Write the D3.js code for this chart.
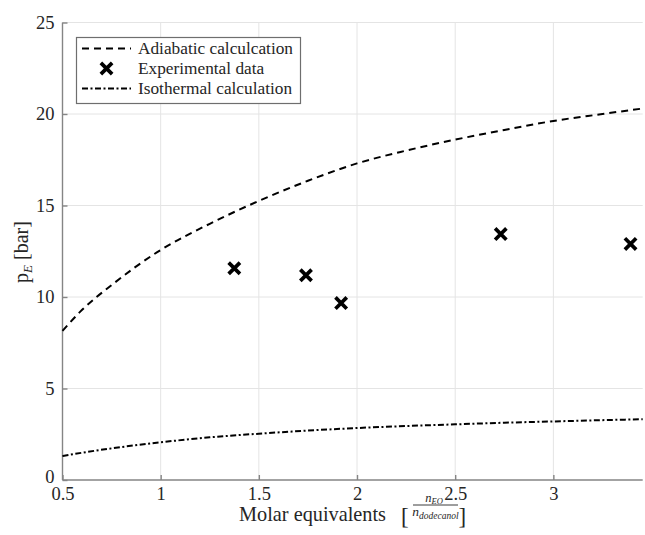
<!DOCTYPE html>
<html>
<head>
<meta charset="utf-8">
<script src="https://cdn.jsdelivr.net/npm/d3@7"></script>
<style>
  html, body { margin: 0; padding: 0; background: #fff; }
  svg { display: block; }
  text { font-family: "Liberation Serif", "Times New Roman", serif; fill: #262626; }
</style>
</head>
<body>
<svg id="chart" width="645" height="535"></svg>
<script>
// Molar equivalents (n_EO / n_dodecanol) sampled along the model curves
const modelX = [0.5, 0.6, 0.75, 1.0, 1.25, 1.5, 1.75, 2.0, 2.25, 2.5, 2.75, 3.0, 3.25, 3.455];
// Adiabatic model pressure p_E [bar]
const adiabaticP = [8.15, 9.3, 10.65, 12.57, 14.0, 15.25, 16.35, 17.3, 18.0, 18.6, 19.13, 19.62, 20.0, 20.3];
// Isothermal model pressure p_E [bar]
const isothermalP = [1.31, 1.49, 1.73, 2.06, 2.33, 2.53, 2.7, 2.84, 2.95, 3.04, 3.13, 3.2, 3.27, 3.32];
// Measured points
const expX = [1.375, 1.74, 1.919, 2.732, 3.393];
const expP = [11.57, 11.19, 9.67, 13.44, 12.90];
// Axis ticks
const xTicks = [0.5, 1, 1.5, 2, 2.5, 3];
const yTicks = [0, 5, 10, 15, 20, 25];
const legendLabels = ["Adiabatic calculcation", "Experimental data", "Isothermal calculation"];

const FONT = "Liberation Serif, Times New Roman, serif";
const svg = d3.select("#chart");
const plot = { left: 62.5, right: 642.7, top: 22.5, bottom: 480 };
const axisColor = "#858585";

const x = d3.scaleLinear().domain([0.5, 3.455]).range([plot.left, plot.right]);
const y = d3.scaleLinear().domain([0, 25]).range([plot.bottom, plot.top]);

// Grid
const grid = svg.append("g").attr("stroke", "#e4e4e4").attr("stroke-width", 1);
grid.selectAll("line.vx").data(xTicks.slice(1)).join("line")
  .attr("x1", d => x(d)).attr("x2", d => x(d))
  .attr("y1", plot.top).attr("y2", plot.bottom);
grid.selectAll("line.hy").data(yTicks.slice(1)).join("line")
  .attr("x1", plot.left).attr("x2", plot.right)
  .attr("y1", d => y(d)).attr("y2", d => y(d));

// Axes (ticks point inward)
const xAxis = d3.axisBottom(x).tickValues(xTicks).tickSize(-5).tickPadding(7)
  .tickFormat(d3.format("~g"));
const yAxis = d3.axisLeft(y).tickValues(yTicks).tickSize(-5).tickPadding(8)
  .tickFormat(d3.format("~g"));

const gx = svg.append("g").attr("transform", `translate(0,${plot.bottom})`).call(xAxis);
const gy = svg.append("g").attr("transform", `translate(${plot.left},0)`).call(yAxis);
[gx, gy].forEach(g => {
  g.attr("font-family", FONT);
  g.select(".domain").attr("stroke", axisColor).attr("stroke-width", 1.4);
  g.selectAll(".tick line").attr("stroke", axisColor).attr("stroke-width", 1.4);
  g.selectAll(".tick text").attr("font-family", FONT)
    .attr("font-size", 18.5).attr("fill", "#262626");
});
gx.select(".domain").attr("d", `M${plot.left},0H${plot.right}`);
gy.select(".domain").attr("d", `M0,${plot.bottom}V${plot.top}`);
// the zero label sits a touch higher so it clears the first x label
gy.selectAll(".tick text").attr("dy", d => d === 0 ? "0.16em" : "0.32em");

// Model curves
const line = d3.line().x(d => x(d[0])).y(d => y(d[1])).curve(d3.curveMonotoneX);
const plotArea = svg.append("g");
plotArea.append("path")
  .datum(modelX.map((v, i) => [v, adiabaticP[i]]))
  .attr("d", line).attr("fill", "none").attr("stroke", "#000")
  .attr("stroke-width", 2).attr("stroke-dasharray", "7,5");
plotArea.append("path")
  .datum(modelX.map((v, i) => [v, isothermalP[i]]))
  .attr("d", line).attr("fill", "none").attr("stroke", "#000")
  .attr("stroke-width", 2).attr("stroke-dasharray", "6,2.5,2,2.5");

// Experimental markers
const cross = d3.symbol().type(d3.symbolX).size(85);
plotArea.selectAll("path.exp").data(expX.map((v, i) => [v, expP[i]])).join("path")
  .attr("class", "exp")
  .attr("transform", d => `translate(${x(d[0])},${y(d[1])})`)
  .attr("d", cross).attr("fill", "none").attr("stroke", "#000")
  .attr("stroke-width", 3.7).attr("stroke-linecap", "butt");

// Legend
const lg = svg.append("g").attr("font-family", FONT);
lg.append("rect").attr("x", 76.5).attr("y", 37.5).attr("width", 224).attr("height", 66)
  .attr("fill", "#fff").attr("stroke", "#6e6e6e").attr("stroke-width", 1.2);
const rowY = [48.5, 68.5, 88.5];
lg.append("line").attr("x1", 82).attr("x2", 131).attr("y1", rowY[0]).attr("y2", rowY[0])
  .attr("stroke", "#000").attr("stroke-width", 2).attr("stroke-dasharray", "7,5");
lg.append("path").attr("transform", `translate(106.5,${rowY[1]})`).attr("d", cross)
  .attr("fill", "none").attr("stroke", "#000").attr("stroke-width", 3.7);
lg.append("line").attr("x1", 82).attr("x2", 131).attr("y1", rowY[2]).attr("y2", rowY[2])
  .attr("stroke", "#000").attr("stroke-width", 2).attr("stroke-dasharray", "6,2.5,2,2.5");
lg.selectAll("text").data(legendLabels).join("text")
  .attr("x", 138).attr("y", (d, i) => rowY[i]).attr("dy", "0.33em")
  .attr("font-family", FONT).attr("font-size", 17.3).text(d => d);

// Y label: p_E [bar]
const yl = svg.append("text").attr("transform", "translate(28,252) rotate(-90)")
  .attr("text-anchor", "middle").attr("font-family", FONT).attr("font-size", 20);
yl.append("tspan").text("p");
yl.append("tspan").attr("font-size", 13).attr("font-style", "italic").attr("dy", 4).text("E");
yl.append("tspan").attr("dy", -4).text(" [bar]");

// X label: Molar equivalents [n_EO / n_dodecanol]
const xl = svg.append("g").attr("font-family", FONT);
xl.append("text").attr("x", 239).attr("y", 520.5).attr("font-size", 20.3).text("Molar equivalents");
xl.append("text").attr("x", 401).attr("y", 524).attr("font-size", 23).text("[");
xl.append("text").attr("x", 458.5).attr("y", 524).attr("font-size", 23).text("]");
const num = xl.append("text").attr("x", 434).attr("y", 501.5).attr("text-anchor", "middle")
  .attr("font-style", "italic").attr("font-size", 12.5);
num.append("tspan").text("n");
num.append("tspan").attr("font-size", 8.5).attr("dy", 2).text("EO");
xl.append("line").attr("x1", 413).attr("x2", 458).attr("y1", 505).attr("y2", 505)
  .attr("stroke", "#262626").attr("stroke-width", 0.9);
const den = xl.append("text").attr("x", 435.5).attr("y", 516).attr("text-anchor", "middle")
  .attr("font-style", "italic").attr("font-size", 13.5);
den.append("tspan").text("n");
den.append("tspan").attr("font-size", 9.5).attr("dy", 2.5).text("dodecanol");
</script>
</body>
</html>
